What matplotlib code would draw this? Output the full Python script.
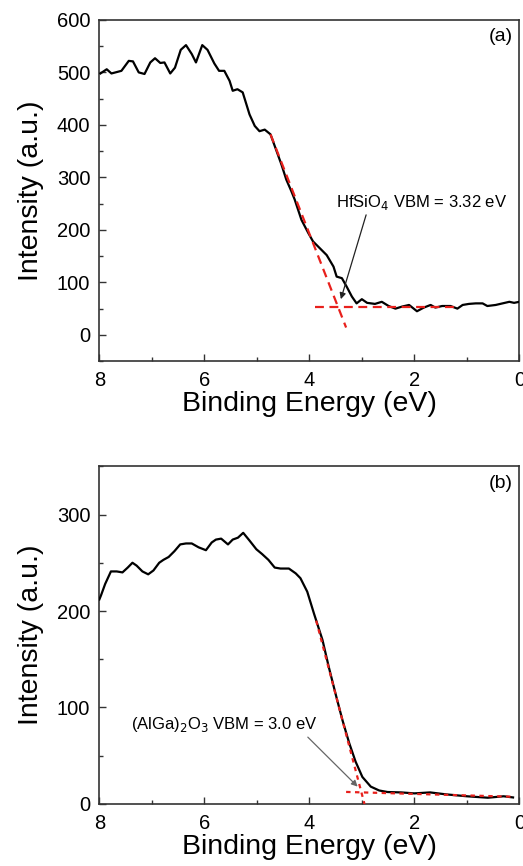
import matplotlib
matplotlib.use("Agg")
import matplotlib.pyplot as plt
from matplotlib.ticker import MultipleLocator

plt.rcParams["font.family"] = ["Liberation Sans", "DejaVu Sans"]

# ─── data ───────────────────────────────────────────────────────────────────
# panel (a): HfSiO4 valence band
energy_a = [7.98, 7.86, 7.77, 7.58, 7.44, 7.36, 7.25, 7.14, 7.03, 6.94, 6.84, 6.76,
            6.65, 6.56, 6.45, 6.35, 6.24, 6.16, 6.04, 5.94, 5.81, 5.72, 5.62, 5.52,
            5.46, 5.37, 5.27, 5.18, 5.14, 5.04, 4.95, 4.85, 4.74, 4.53, 4.44, 4.34,
            4.28, 4.15, 4.02, 3.93, 3.83, 3.67, 3.54, 3.48, 3.38, 3.29, 3.19, 3.10,
            3.00, 2.90, 2.75, 2.62, 2.49, 2.36, 2.23, 2.10, 1.95, 1.82, 1.69, 1.60,
            1.47, 1.31, 1.18, 1.08, 0.96, 0.83, 0.70, 0.61, 0.45, 0.32, 0.19, 0.10, 0.0]
counts_a = [498, 506, 498, 503, 522, 521, 500, 497, 519, 527, 518, 519,
            498, 509, 543, 552, 535, 519, 552, 543, 517, 503, 503, 484,
            465, 468, 462, 433, 420, 398, 388, 391, 382, 324, 296, 273,
            258, 219, 194, 178, 168, 152, 130, 111, 108, 92, 73, 60,
            68, 61, 59, 63, 55, 50, 54, 57, 45, 52, 57, 52,
            55, 55, 50, 57, 59, 60, 60, 55, 57, 60, 63, 61, 63]
fit_edge_a_x = [4.74, 3.30]
fit_edge_a_y = [382, 14]
fit_bg_a_x = [3.90, 1.15]
fit_bg_a_y = [54, 54]

# panel (b): (AlGa)2O3 valence band
energy_b = [8.0, 7.97, 7.89, 7.78, 7.67, 7.56, 7.46, 7.37, 7.29, 7.18, 7.07, 6.97,
            6.86, 6.78, 6.68, 6.57, 6.46, 6.35, 6.24, 6.11, 5.97, 5.86, 5.78, 5.68,
            5.55, 5.46, 5.36, 5.26, 5.14, 5.01, 4.90, 4.78, 4.66, 4.55, 4.39, 4.26,
            4.17, 4.04, 3.91, 3.75, 3.63, 3.50, 3.37, 3.24, 3.12, 2.99, 2.83, 2.67,
            2.51, 2.25, 2.0, 1.7, 1.4, 1.0, 0.6, 0.3, 0.12]
counts_b = [212, 216, 228, 241, 241, 240, 245, 250, 247, 241, 238, 242,
            250, 253, 256, 262, 269, 270, 270, 266, 263, 271, 274, 275,
            269, 274, 276, 281, 273, 264, 259, 253, 245, 244, 244, 239,
            234, 220, 197, 170, 142, 114, 87, 63, 44, 28, 18, 14,
            12.4, 12, 11, 12, 10, 8, 6.5, 8, 6.8]
fit_edge_b_x = [3.87, 2.95]
fit_edge_b_y = [190, 0]
fit_bg_b_x = [3.30, 0.12]
fit_bg_b_y = [12.5, 7.5]

RED = "#e8201c"
SPINE = "#333333"


def style_axes(ax, ymin, ymax, ymajor):
    ax.set_xlim(8, 0)
    ax.set_ylim(ymin, ymax)
    ax.xaxis.set_major_locator(MultipleLocator(2))
    ax.xaxis.set_minor_locator(MultipleLocator(1))
    ax.yaxis.set_major_locator(MultipleLocator(ymajor))
    ax.yaxis.set_minor_locator(MultipleLocator(50))
    ax.tick_params(which="both", direction="in", labelsize=14.5, color=SPINE, width=1.0)
    ax.tick_params(which="major", length=5)
    ax.tick_params(which="minor", length=3)
    ax.tick_params(axis="x", pad=7)
    ax.tick_params(axis="y", pad=6.5)
    for s in ax.spines.values():
        s.set_color(SPINE)
        s.set_linewidth(1.2)
    ax.set_xlabel("Binding Energy (eV)", fontsize=20.5, labelpad=1)
    ax.set_ylabel("Intensity (a.u.)", fontsize=20.5, labelpad=9)


fig = plt.figure(figsize=(5.23, 8.66), dpi=100)

# ─── (a) ─────────────────────────────────────────────────────────────────────
ax1 = fig.add_axes([0.190, 0.583, 0.803, 0.394])
ax1.plot(energy_a, counts_a, color="black", lw=1.6, zorder=3)
ax1.plot(fit_edge_a_x, fit_edge_a_y, color=RED, lw=1.6, ls=(0, (4, 2.5)), zorder=4)
ax1.plot(fit_bg_a_x, fit_bg_a_y, color=RED, lw=1.6, ls=(0, (4, 2.5)), zorder=4)
style_axes(ax1, -50, 600, 100)
ax1.set_yticks([0, 100, 200, 300, 400, 500, 600])
ax1.annotate("HfSiO$_4$ VBM = 3.32 eV", xy=(3.40, 68), xytext=(3.49, 252),
             fontsize=12, va="center", ha="left",
             arrowprops=dict(arrowstyle="-|>", color="#222222", lw=0.9,
                             mutation_scale=9, shrinkA=0, shrinkB=0,
                             relpos=(0.18, 0.0)))
ax1.text(0.985, 0.975, "(a)", transform=ax1.transAxes, fontsize=14,
         ha="right", va="top")

# ─── (b) ─────────────────────────────────────────────────────────────────────
ax2 = fig.add_axes([0.190, 0.0716, 0.803, 0.390])
ax2.plot(energy_b, counts_b, color="black", lw=1.6, zorder=3)
ax2.plot(fit_edge_b_x, fit_edge_b_y, color=RED, lw=1.6, ls=(0, (2, 2)), zorder=4)
ax2.plot(fit_bg_b_x, fit_bg_b_y, color=RED, lw=1.6, ls=(0, (2, 2)), zorder=4)
style_axes(ax2, 0, 350, 100)
ax2.set_yticks([0, 100, 200, 300])
ax2.annotate("(AlGa)$_2$O$_3$ VBM = 3.0 eV", xy=(3.08, 18), xytext=(7.39, 82),
             fontsize=12, va="center", ha="left",
             arrowprops=dict(arrowstyle="-|>", color="#666666", lw=0.9,
                             mutation_scale=9, shrinkA=0, shrinkB=0,
                             relpos=(0.93, 0.0)))
ax2.text(0.985, 0.975, "(b)", transform=ax2.transAxes, fontsize=14,
         ha="right", va="top")

fig.savefig("out.png", dpi=100)
